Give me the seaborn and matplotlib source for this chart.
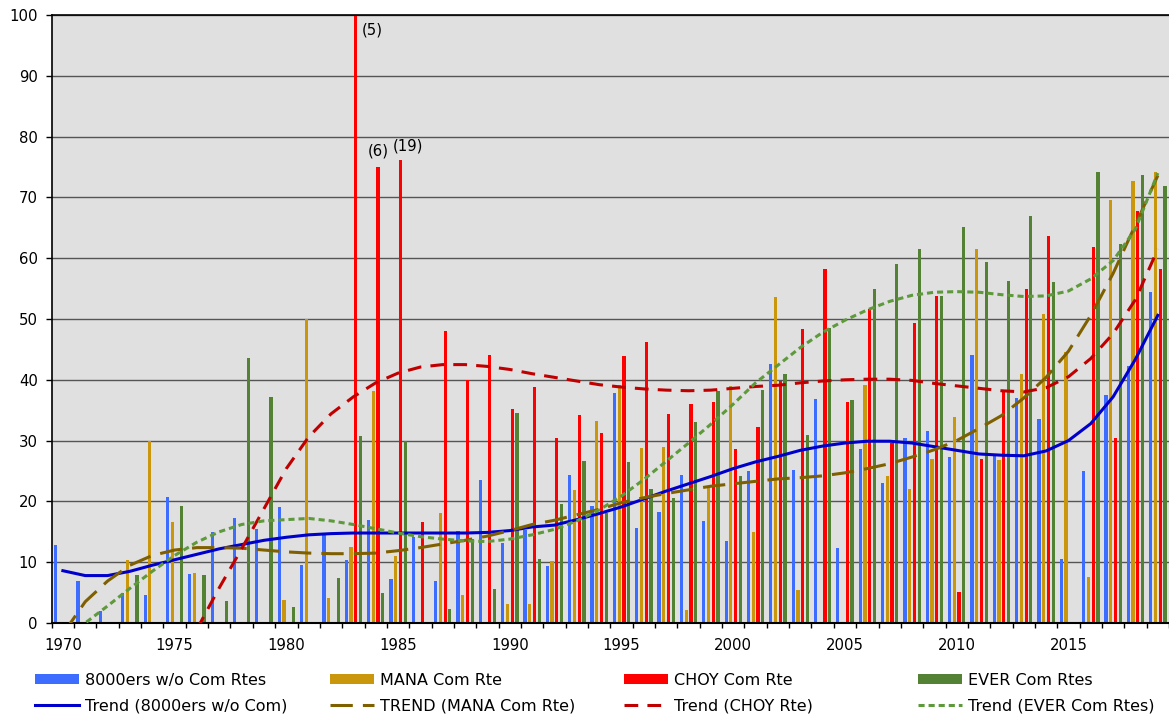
import numpy as np
import pandas as pd
import matplotlib
matplotlib.use("Agg")
import matplotlib.pyplot as plt
import seaborn as sns
from matplotlib.patches import Patch
from matplotlib.lines import Line2D

plt.rcParams['font.family'] = ['DejaVu Sans']

# ---------------- data ----------------
years = list(range(1970, 2020))

no_com = [12.8, 6.9, 1.9, 4.9, 4.6, 20.8, 8.1, 14.9, 17.2, 15.5,
          19.1, 9.6, 14.4, 10.3, 17.0, 7.2, 14.1, 6.9, 15.1, 23.5,
          13.1, 15.3, 9.4, 24.3, 19.3, 37.8, 15.6, 18.2, 24.3, 16.7,
          13.5, 25.0, 42.6, 25.2, 36.8, 12.3, 28.6, 23.1, 30.4, 31.5,
          27.3, 44.1, 27.5, 37.0, 33.6, 10.6, 25.0, 37.5, 42.3, 54.5]

mana = [0, 0, 0, 10.4, 29.9, 16.6, 8.2, 0, 0, 0,
        3.8, 50.0, 4.1, 12.5, 38.1, 11.1, 0, 18.1, 4.6, 0,
        3.1, 3.2, 10.2, 21.9, 33.3, 39.1, 28.8, 28.9, 2.2, 22.2,
        39.0, 14.9, 53.7, 5.4, 0, 0, 39.1, 24.2, 22.0, 27.0,
        33.8, 61.5, 26.8, 40.9, 50.8, 44.5, 7.5, 69.6, 72.7, 74.1]

choy = [0, 0, 0, 0, 0, 0, 0, 0, 0, 0,
        0, 0, 0, 100.0, 75.0, 76.1, 16.6, 48.0, 39.9, 44.0,
        35.2, 38.8, 30.4, 34.2, 31.2, 43.9, 46.2, 34.4, 36.0, 36.4,
        28.7, 32.3, 39.8, 48.3, 58.2, 36.4, 51.6, 29.6, 49.3, 53.8,
        5.1, 27.0, 38.0, 54.9, 63.7, 0, 61.8, 30.4, 67.8, 58.2]

ever = [0, 0, 0, 7.9, 0, 19.2, 7.9, 3.6, 43.6, 37.1,
        2.6, 0, 7.4, 30.7, 5.0, 30.0, 0, 2.3, 13.8, 5.6,
        34.5, 10.6, 19.6, 26.6, 18.1, 26.4, 22.1, 20.5, 33.1, 38.2,
        24.1, 38.4, 40.9, 30.9, 48.5, 36.7, 55.0, 59.0, 61.5, 53.8,
        65.1, 59.3, 56.3, 66.9, 56.1, 0, 74.1, 62.3, 73.7, 71.9]

trend_no_com = [8.6, 7.8, 7.8, 8.5, 9.5, 10.4, 11.3, 12.2, 12.9, 13.6,
                14.1, 14.5, 14.7, 14.8, 14.8, 14.8, 14.8, 14.8, 14.8, 14.9,
                15.2, 15.8, 16.1, 17.0, 18.0, 19.1, 20.4, 21.7, 22.9, 24.1,
                25.4, 26.5, 27.4, 28.4, 29.1, 29.6, 29.9, 29.9, 29.6, 29.0,
                28.4, 27.8, 27.6, 27.5, 28.3, 30.0, 32.8, 37.2, 43.4, 50.6]

trend_mana = [-1.8, 3.5, 6.9, 9.5, 11.1, 12.0, 12.4, 12.4, 12.3, 12.0,
              11.7, 11.5, 11.4, 11.4, 11.5, 11.9, 12.4, 13.0, 13.6, 14.3,
              15.2, 16.2, 16.9, 17.8, 18.7, 19.8, 20.6, 21.3, 21.9, 22.5,
              22.9, 23.3, 23.7, 23.9, 24.2, 24.7, 25.4, 26.2, 27.3, 28.5,
              30.0, 32.0, 34.1, 37.0, 40.4, 44.7, 50.6, 57.5, 65.5, 73.6]

trend_choy = [np.nan, np.nan, np.nan, np.nan, np.nan, np.nan, -1.0, 5.8, 12.2, 18.8,
              25.4, 30.6, 34.4, 37.2, 39.5, 41.1, 42.1, 42.5, 42.5, 42.2,
              41.7, 41.0, 40.4, 39.8, 39.2, 38.8, 38.5, 38.3, 38.2, 38.3,
              38.6, 38.9, 39.1, 39.5, 39.8, 40.0, 40.1, 40.1, 39.9, 39.4,
              39.0, 38.6, 38.2, 38.0, 38.7, 40.5, 43.5, 47.6, 53.2, 61.5]

trend_ever = [-3.0, 0.0, 2.8, 5.7, 8.5, 11.1, 13.3, 15.0, 16.2, 16.8,
              17.0, 17.2, 16.8, 16.2, 15.5, 14.8, 14.2, 13.8, 13.5, 13.4,
              13.8, 14.5, 15.4, 16.8, 18.6, 20.9, 23.6, 26.6, 29.6, 32.7,
              36.0, 39.5, 42.4, 45.3, 47.8, 49.8, 51.5, 52.9, 53.9, 54.4,
              54.5, 54.4, 54.0, 53.7, 53.8, 54.6, 56.6, 59.6, 64.8, 74.0]

series_names = ["8000ers w/o Com Rtes", "MANA Com Rte", "CHOY Com Rte", "EVER Com Rtes"]
trend_names = ["Trend (8000ers w/o Com)", "TREND (MANA Com Rte)",
               "Trend (CHOY Rte)", "Trend (EVER Com Rtes)"]
year_labels = [1970, 1975, 1980, 1985, 1990, 1995, 2000, 2005, 2010, 2015]
y_labels = [0, 10, 20, 30, 40, 50, 60, 70, 80, 90, 100]
note_years = [1983, 1984, 1985]
note_texts = ["(5)", "(6)", "(19)"]

# ---------------- styles ----------------
bar_colors = ["#3D6DFF", "#C9960C", "#FF0000", "#548235"]
trend_colors = ["#0000CC", "#7F6000", "#C00000", "#5E9A3C"]
trend_styles = ["-", (0, (7.3, 3.3)), (0, (4.5, 3.0)), (0, (2.0, 1.3))]

W, H = 1169, 717
fig = plt.figure(figsize=(W / 100, H / 100), dpi=100)
left_px, top_px, bottom_px = 51.7, 15, 623
ax = fig.add_axes([left_px / W, (H - bottom_px) / H, (W - left_px) / W,
                   (bottom_px - top_px) / H])
ax.set_facecolor("#E0E0E0")

df = pd.DataFrame({
    "year": np.tile(years, 4),
    "value": np.concatenate([no_com, mana, choy, ever]),
    "series": np.repeat(series_names, len(years)),
})
sns.barplot(data=df, x="year", y="value", hue="series", hue_order=series_names,
            palette=bar_colors, native_scale=True, width=0.85, gap=0.32,
            saturation=1, linewidth=0, errorbar=None, legend=False, ax=ax,
            zorder=2)

for tr, c, ls in zip([trend_no_com, trend_mana, trend_choy, trend_ever],
                     trend_colors, trend_styles):
    tdf = pd.DataFrame({"year": years, "value": tr}).dropna()
    sns.lineplot(data=tdf, x="year", y="value", color=c, linewidth=2.2,
                 linestyle=ls, errorbar=None, ax=ax, zorder=3)

# annotations
fs_note = 10.7
ax.text(note_years[0] + 0.36, choy[13] - 2.4, note_texts[0], fontsize=fs_note,
        ha="left", va="center", zorder=4)
ax.text(note_years[1] + 0.13, choy[14] + 1.4, note_texts[1], fontsize=fs_note,
        ha="center", va="bottom", zorder=4)
ax.text(note_years[2] + 0.46, choy[15] + 1.1, note_texts[2], fontsize=fs_note,
        ha="center", va="bottom", zorder=4)

ax.set_xlim(1969.5, 1969.5 + (W - left_px) / 22.4)
ax.set_ylim(0, 100)
ax.set_xlabel("")
ax.set_ylabel("")

ax.set_xticks(year_labels)
ax.set_xticklabels([str(y) for y in year_labels])
ax.set_xticks([y - 0.5 for y in years] + [2019.5], minor=True)
ax.set_yticks(y_labels)
ax.set_yticklabels([str(v) for v in y_labels])
ax.tick_params(axis="x", which="major", length=0, pad=10.5, labelsize=10.7)
ax.tick_params(axis="x", which="minor", length=3.6, width=1.0, color="black")
ax.tick_params(axis="y", length=4.1, width=1.0, pad=6, labelsize=10.7)

ax.yaxis.grid(True, color="#555555", linewidth=1.0)
ax.xaxis.grid(False)
ax.set_axisbelow(True)
for s in ["left", "top"]:
    ax.spines[s].set_color("black")
    ax.spines[s].set_linewidth(1.2)
ax.spines["bottom"].set_color("black")
ax.spines["bottom"].set_linewidth(1.5)
ax.spines["right"].set_visible(False)

# legend: four columns, each bar + trend
col_x = [35, 330, 624, 918]
for i in range(4):
    handles = [Patch(facecolor=bar_colors[i], edgecolor="none"),
               Line2D([], [], color=trend_colors[i], linewidth=2.2,
                      linestyle=trend_styles[i])]
    fig.legend(handles=handles, labels=[series_names[i], trend_names[i]],
               loc="upper left", bbox_to_anchor=(col_x[i] / W, (H - 673) / H),
               frameon=False, fontsize=11.5, borderpad=0, borderaxespad=0,
               handlelength=2.75, handleheight=0.6, handletextpad=0.38,
               labelspacing=0.64)

fig.savefig("out.png", dpi=100, facecolor="white")
